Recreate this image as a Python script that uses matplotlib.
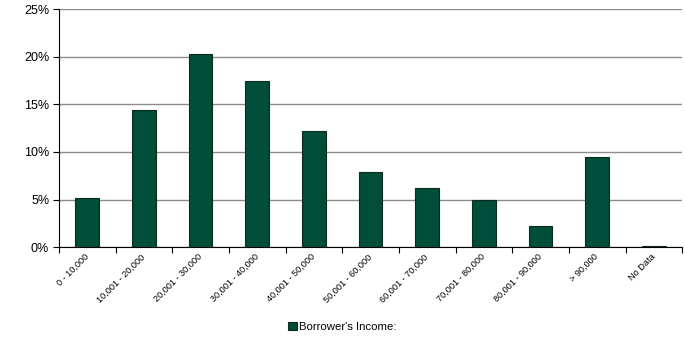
import matplotlib.pyplot as plt
import numpy as np
from matplotlib.ticker import PercentFormatter

plt.rcParams['font.family'] = ['Liberation Sans', 'DejaVu Sans']

categories = ['0 - 10,000', '10,001 - 20,000', '20,001 - 30,000', '30,001 - 40,000',
              '40,001 - 50,000', '50,001 - 60,000', '60,001 - 70,000', '70,001 - 80,000',
              '80,001 - 90,000', '> 90,000', 'No Data']
share = [5.2, 14.4, 20.3, 17.5, 12.2, 7.9, 6.2, 4.9, 2.2, 9.5, 0.1]

fig = plt.figure(figsize=(6.85, 3.39), dpi=100)
ax = fig.add_axes([0.086, 0.271, 0.91, 0.702])

x = np.arange(len(categories))
ax.bar(x, share, width=0.42, color='#004d3a', edgecolor='#0d2b1c', linewidth=0.8,
       label="Borrower's Income:", zorder=3)

ax.set_xlim(-0.5, len(categories) - 0.5)
ax.set_ylim(0, 25)
ax.set_yticks(np.arange(0, 26, 5))
ax.yaxis.set_major_formatter(PercentFormatter(decimals=0))
ax.grid(axis='y', color='#8c8c8c', linewidth=1, zorder=0)

ax.set_xticks(x)
ax.set_xticklabels(categories, rotation=45, ha='right', va='center',
                   rotation_mode='anchor', fontsize=6.6)
ax.tick_params(axis='x', which='major', length=0, pad=6)
ax.set_xticks(np.arange(-0.5, len(categories)), minor=True)
ax.tick_params(axis='x', which='minor', length=4, width=0.8, direction='out')
ax.tick_params(axis='y', labelsize=9, length=4, width=0.8, pad=3)

for side in ['top', 'right']:
    ax.spines[side].set_visible(False)
ax.spines['left'].set_linewidth(0.8)
ax.spines['bottom'].set_linewidth(0.8)

fig.legend(loc='center', bbox_to_anchor=(0.5, 0.035), frameon=False, fontsize=8.2,
           handlelength=0.75, handleheight=0.75, handletextpad=0.2)

plt.savefig('out.png', dpi=100)
